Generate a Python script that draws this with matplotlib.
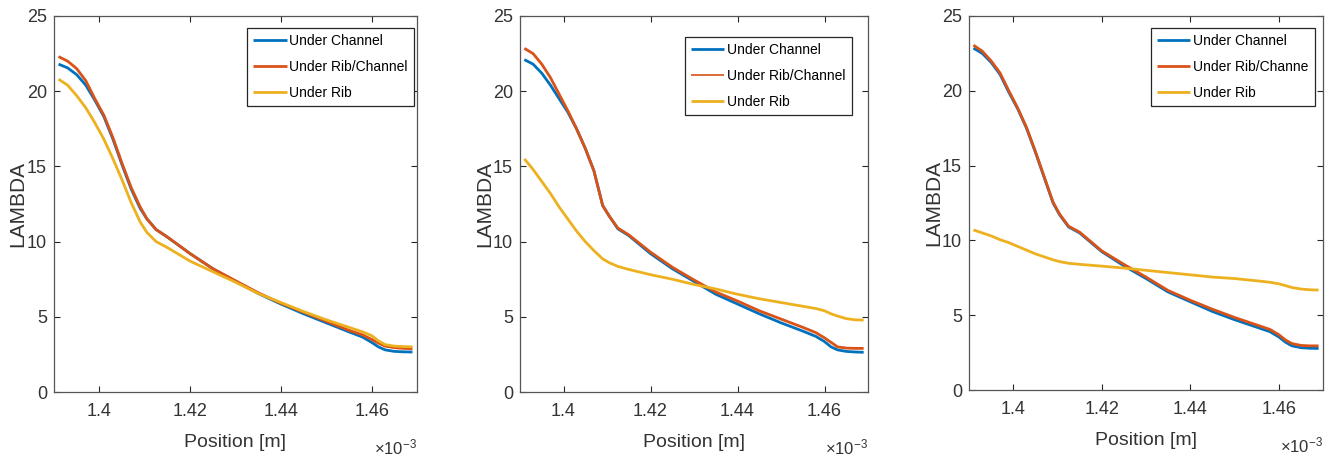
import matplotlib
matplotlib.use("Agg")
import matplotlib.pyplot as plt
from matplotlib import font_manager as fm


def first_font(*names):
    for n in names:
        try:
            fm.findfont(fm.FontProperties(family=n), fallback_to_default=False)
            return n
        except Exception:
            continue
    return "DejaVu Sans"


NARROW = first_font("Liberation Sans Narrow", "Liberation Sans", "Arial")
REGULAR = first_font("Liberation Sans", "Arial", "DejaVu Sans")

plt.rcParams["mathtext.fontset"] = "custom"
plt.rcParams["mathtext.rm"] = NARROW
plt.rcParams["mathtext.it"] = NARROW

# Position along the thickness, in units of 1e-3 m
position = [1.391, 1.393, 1.395, 1.397, 1.399, 1.401, 1.403, 1.405, 1.407,
            1.409, 1.4105, 1.4125, 1.415, 1.420, 1.425, 1.430, 1.435, 1.440,
            1.445, 1.450, 1.455, 1.458, 1.460, 1.4615, 1.463, 1.465, 1.467,
            1.469]

# Case 1
p1_channel = [21.8, 21.55, 21.1, 20.4, 19.4, 18.3, 16.8, 15.1, 13.5, 12.2,
              11.5, 10.8, 10.3, 9.2, 8.2, 7.35, 6.55, 5.85, 5.2, 4.6, 4.0,
              3.65, 3.3, 3.0, 2.8, 2.7, 2.67, 2.66]
p1_ribchannel = [22.3, 22.0, 21.5, 20.7, 19.5, 18.4, 16.9, 15.2, 13.6, 12.3,
                 11.5, 10.8, 10.3, 9.2, 8.2, 7.4, 6.6, 5.9, 5.3, 4.7, 4.1,
                 3.8, 3.5, 3.25, 3.05, 2.95, 2.9, 2.88]
p1_rib = [20.8, 20.4, 19.7, 18.9, 17.9, 16.8, 15.5, 14.1, 12.6, 11.3, 10.6,
          10.0, 9.6, 8.7, 8.0, 7.3, 6.55, 5.95, 5.35, 4.8, 4.3, 4.0, 3.75,
          3.4, 3.15, 3.05, 3.02, 3.0]

# Case 2
p2_channel = [22.1, 21.8, 21.2, 20.4, 19.5, 18.6, 17.5, 16.2, 14.7, 12.4,
              11.7, 10.85, 10.4, 9.2, 8.2, 7.35, 6.5, 5.85, 5.2, 4.6, 4.05,
              3.7, 3.35, 3.0, 2.8, 2.7, 2.66, 2.64]
p2_ribchannel = [22.85, 22.5, 21.8, 20.9, 19.8, 18.7, 17.5, 16.2, 14.7, 12.4,
                 11.7, 10.9, 10.45, 9.3, 8.3, 7.45, 6.65, 6.05, 5.4, 4.85,
                 4.3, 3.95, 3.6, 3.3, 3.0, 2.92, 2.9, 2.9]
p2_rib = [15.5, 14.8, 14.0, 13.2, 12.3, 11.5, 10.7, 10.0, 9.4, 8.85, 8.6,
          8.35, 8.15, 7.8, 7.5, 7.15, 6.85, 6.5, 6.2, 5.95, 5.7, 5.55, 5.4,
          5.2, 5.05, 4.88, 4.8, 4.78]

# Case 3
p3_channel = [22.85, 22.5, 21.9, 21.1, 19.9, 18.8, 17.5, 15.9, 14.2, 12.5,
              11.7, 10.9, 10.5, 9.25, 8.3, 7.45, 6.55, 5.9, 5.25, 4.7, 4.2,
              3.9, 3.55, 3.2, 2.95, 2.83, 2.79, 2.78]
p3_ribchannel = [23.05, 22.65, 22.0, 21.2, 20.0, 18.85, 17.55, 15.95, 14.25,
                 12.55, 11.75, 10.95, 10.55, 9.3, 8.4, 7.55, 6.65, 6.0, 5.4,
                 4.85, 4.35, 4.05, 3.7, 3.35, 3.1, 2.98, 2.95, 2.95]
p3_rib = [10.7, 10.5, 10.3, 10.05, 9.85, 9.6, 9.35, 9.1, 8.9, 8.7, 8.58,
          8.47, 8.4, 8.28, 8.15, 8.0, 7.85, 7.7, 7.55, 7.45, 7.3, 7.2, 7.1,
          6.98, 6.85, 6.75, 6.7, 6.68]

labels_std = ["Under Channel", "Under Rib/Channel", "Under Rib"]
labels_p3 = ["Under Channel", "Under Rib/Channe", "Under Rib"]

x_ticks = [1.40, 1.42, 1.44, 1.46]
x_tick_labels = ["1.4", "1.42", "1.44", "1.46"]
y_ticks = [0, 5, 10, 15, 20, 25]

colors = ["#0072BD", "#D95319", "#EDB120"]
axis_color = "#262626"
text_color = "#333333"

panels = [
    dict(series=[p1_channel, p1_ribchannel, p1_rib], labels=labels_std,
         rect=[54, 16, 417, 392], legend_anchor=(0.992, 0.968)),
    dict(series=[p2_channel, p2_ribchannel, p2_rib], labels=labels_std,
         rect=[520, 16, 868, 392], legend_anchor=(0.954, 0.944)),
    dict(series=[p3_channel, p3_ribchannel, p3_rib], labels=labels_p3,
         rect=[969, 16, 1323, 390], legend_anchor=(0.977, 0.968)),
]

W, H = 1340, 461
fig = plt.figure(figsize=(W / 100, H / 100), dpi=100)

for k, p in enumerate(panels):
    l, t, r, b = p["rect"]
    ax = fig.add_axes([l / W, (H - b) / H, (r - l) / W, (b - t) / H])
    for vals, c, lab in zip(p["series"], colors, p["labels"]):
        ax.plot(position, vals, color=c, lw=2.0, label=lab,
                solid_joinstyle="round", solid_capstyle="butt")
    ax.set_xlim(1.39, 1.47)
    ax.set_ylim(0, 25)
    ax.set_xticks(x_ticks)
    ax.set_xticklabels(x_tick_labels)
    ax.set_yticks(y_ticks)
    ax.tick_params(direction="in", length=4, width=0.8, top=True, right=True,
                   colors=axis_color, labelcolor=text_color, labelsize=13)
    ax.tick_params(axis="x", pad=8)
    ax.tick_params(axis="y", pad=5)
    for lbl in ax.get_xticklabels() + ax.get_yticklabels():
        lbl.set_fontfamily(NARROW)
    for s in ax.spines.values():
        s.set_color("#555555")
        s.set_linewidth(0.9)

    ax.set_xlabel("Position [m]", fontsize=14, family=NARROW,
                  color=text_color)
    ax.xaxis.set_label_coords(0.5, -0.112)
    ax.set_ylabel("LAMBDA", fontsize=15, family=REGULAR, color=text_color,
                  va="center")
    ax.yaxis.set_label_coords(-0.1, 0.5)
    ax.text(1.0, -0.166, "×10$^{-3}$", transform=ax.transAxes,
            ha="right", va="baseline", fontsize=12, family=NARROW,
            color=text_color)

    leg = ax.legend(loc="upper right", bbox_to_anchor=p["legend_anchor"],
                    borderaxespad=0, fancybox=False, framealpha=1,
                    edgecolor=axis_color, prop={"family": REGULAR, "size": 10},
                    handlelength=2.4, handletextpad=0.2, labelspacing=0.85,
                    borderpad=0.45)
    leg.get_frame().set_linewidth(0.9)
    if k == 1:
        leg.get_lines()[1].set_linewidth(1.2)

fig.savefig("out.png", dpi=100)
